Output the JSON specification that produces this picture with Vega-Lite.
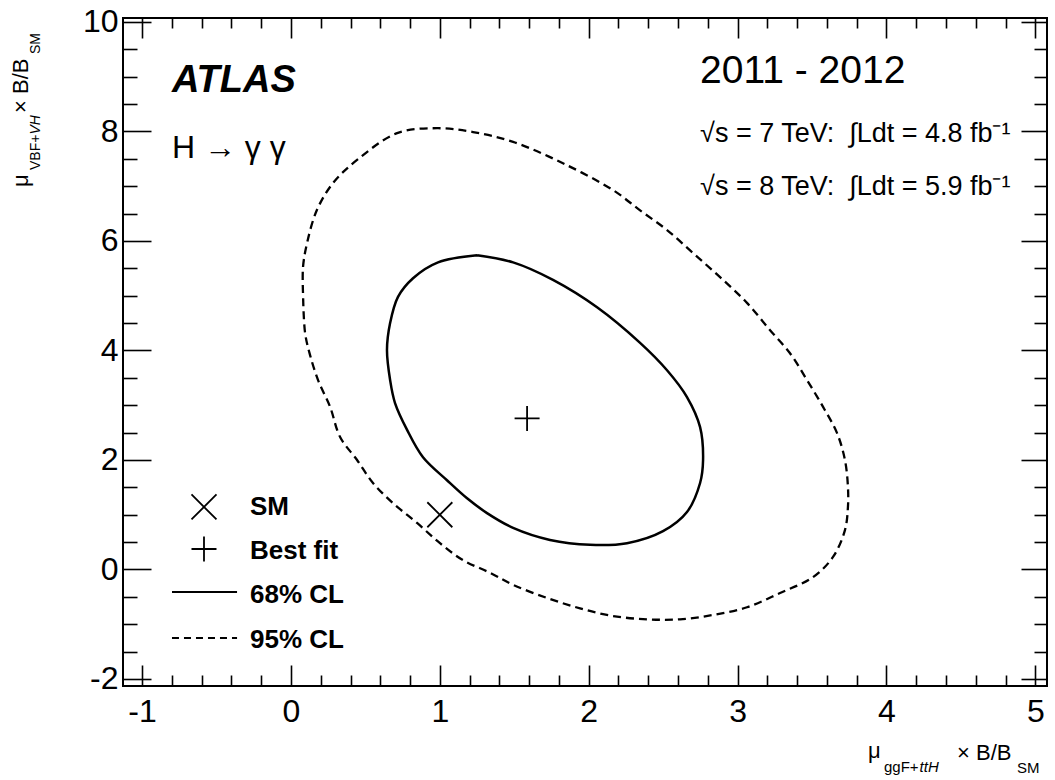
{
  "$schema": "https://vega.github.io/schema/vega-lite/v6.json",
  "width": 924,
  "height": 668,
  "autosize": {"type": "none"},
  "padding": {"left": 123, "top": 18, "right": 8, "bottom": 94},
  "background": "white",
  "config": {
    "view": {"stroke": "black", "strokeWidth": 2},
    "font": "Liberation Sans",
    "axis": {"domain": false, "grid": false, "tickColor": "black", "tickWidth": 1.6, "labelColor": "black", "labelFont": "Liberation Sans", "labelFontSize": 32, "labelFlush": false, "labelOverlap": false}
  },
  "datasets": {
    "c95": [
      {"i": 0, "x": 0.081, "y": 5.05}, {"i": 1, "x": 0.081, "y": 5.52}, {"i": 2, "x": 0.108, "y": 5.96}, {"i": 3, "x": 0.175, "y": 6.57},
      {"i": 4, "x": 0.283, "y": 7.06}, {"i": 5, "x": 0.444, "y": 7.48}, {"i": 6, "x": 0.713, "y": 7.97}, {"i": 7, "x": 0.981, "y": 8.06},
      {"i": 8, "x": 1.223, "y": 7.99}, {"i": 9, "x": 1.492, "y": 7.81}, {"i": 10, "x": 1.827, "y": 7.42}, {"i": 11, "x": 2.163, "y": 6.93},
      {"i": 12, "x": 2.345, "y": 6.56}, {"i": 13, "x": 2.526, "y": 6.2}, {"i": 14, "x": 2.7, "y": 5.78}, {"i": 15, "x": 2.882, "y": 5.34},
      {"i": 16, "x": 3.063, "y": 4.87}, {"i": 17, "x": 3.218, "y": 4.37}, {"i": 18, "x": 3.352, "y": 3.95}, {"i": 19, "x": 3.466, "y": 3.46},
      {"i": 20, "x": 3.574, "y": 2.97}, {"i": 21, "x": 3.668, "y": 2.49}, {"i": 22, "x": 3.721, "y": 2.0}, {"i": 23, "x": 3.741, "y": 1.51},
      {"i": 24, "x": 3.741, "y": 1.14}, {"i": 25, "x": 3.721, "y": 0.72}, {"i": 26, "x": 3.641, "y": 0.23}, {"i": 27, "x": 3.506, "y": -0.14},
      {"i": 28, "x": 3.285, "y": -0.43}, {"i": 29, "x": 3.063, "y": -0.69}, {"i": 30, "x": 2.835, "y": -0.83}, {"i": 31, "x": 2.613, "y": -0.91},
      {"i": 32, "x": 2.392, "y": -0.91}, {"i": 33, "x": 2.163, "y": -0.85}, {"i": 34, "x": 1.942, "y": -0.71}, {"i": 35, "x": 1.72, "y": -0.52},
      {"i": 36, "x": 1.492, "y": -0.28}, {"i": 37, "x": 1.337, "y": -0.06}, {"i": 38, "x": 1.156, "y": 0.17}, {"i": 39, "x": 1.001, "y": 0.48},
      {"i": 40, "x": 0.847, "y": 0.85}, {"i": 41, "x": 0.686, "y": 1.21}, {"i": 42, "x": 0.551, "y": 1.58}, {"i": 43, "x": 0.444, "y": 2.0},
      {"i": 44, "x": 0.33, "y": 2.42}, {"i": 45, "x": 0.263, "y": 2.97}, {"i": 46, "x": 0.182, "y": 3.46}, {"i": 47, "x": 0.128, "y": 3.92},
      {"i": 48, "x": 0.095, "y": 4.32}, {"i": 49, "x": 0.081, "y": 5.05}
    ],
    "c68": [
      {"i": 0, "x": 1.25, "y": 5.74}, {"i": 1, "x": 1.492, "y": 5.61}, {"i": 2, "x": 1.76, "y": 5.29}, {"i": 3, "x": 2.056, "y": 4.79},
      {"i": 4, "x": 2.345, "y": 4.14}, {"i": 5, "x": 2.526, "y": 3.64}, {"i": 6, "x": 2.66, "y": 3.15}, {"i": 7, "x": 2.748, "y": 2.6},
      {"i": 8, "x": 2.768, "y": 2.0}, {"i": 9, "x": 2.748, "y": 1.58}, {"i": 10, "x": 2.66, "y": 1.05}, {"i": 11, "x": 2.499, "y": 0.7},
      {"i": 12, "x": 2.257, "y": 0.48}, {"i": 13, "x": 2.009, "y": 0.45}, {"i": 14, "x": 1.74, "y": 0.54}, {"i": 15, "x": 1.492, "y": 0.76},
      {"i": 16, "x": 1.317, "y": 1.03}, {"i": 17, "x": 1.183, "y": 1.3}, {"i": 18, "x": 1.048, "y": 1.63}, {"i": 19, "x": 0.887, "y": 2.05},
      {"i": 20, "x": 0.78, "y": 2.55}, {"i": 21, "x": 0.699, "y": 3.04}, {"i": 22, "x": 0.666, "y": 3.46}, {"i": 23, "x": 0.645, "y": 4.01},
      {"i": 24, "x": 0.666, "y": 4.5}, {"i": 25, "x": 0.719, "y": 4.98}, {"i": 26, "x": 0.82, "y": 5.32}, {"i": 27, "x": 0.988, "y": 5.61},
      {"i": 28, "x": 1.25, "y": 5.74}
    ],
    "pts": [
      {"name": "SM", "x": 1.0, "y": 1.0},
      {"name": "Best fit", "x": 1.586, "y": 2.76},
      {"name": "SM", "x": -0.584, "y": 1.142},
      {"name": "Best fit", "x": -0.584, "y": 0.374}
    ],
    "leg": [
      {"cl": "68% CL", "x": -0.799, "y": -0.411}, {"cl": "68% CL", "x": -0.362, "y": -0.411},
      {"cl": "95% CL", "x": -0.799, "y": -1.251}, {"cl": "95% CL", "x": -0.362, "y": -1.251}
    ],
    "atlas": [{"t": "ATLAS", "x": -0.799, "y": 8.721}],
    "hgg": [{"t": "H → γ γ", "x": -0.799, "y": 7.516}],
    "years": [{"t": "2011 - 2012", "x": 2.748, "y": 8.886}],
    "lumi": [
      {"t": "√s = 7 TeV: \u00a0∫Ldt = 4.8 fb⁻¹", "x": 2.748, "y": 7.808},
      {"t": "√s = 8 TeV: \u00a0∫Ldt = 5.9 fb⁻¹", "x": 2.748, "y": 6.84}
    ],
    "legtext": [
      {"t": "SM", "x": -0.275, "y": 0.995},
      {"t": "Best fit", "x": -0.275, "y": 0.192},
      {"t": "68% CL", "x": -0.275, "y": -0.612},
      {"t": "95% CL", "x": -0.275, "y": -1.434}
    ],
    "xtmain": [{"t": "μ", "x": 3.876, "y": -3.443}, {"t": "× B/B", "x": 4.474, "y": -3.479}],
    "xtsub": [{"t": "ggF+", "x": 3.983, "y": -3.699}, {"t": "SM", "x": 4.876, "y": -3.717}],
    "xtsubi": [{"t": "ttH", "x": 4.222, "y": -3.699}],
    "ytmain": [{"t": "μ", "x": -1.766, "y": 6.986}, {"t": "× B/B", "x": -1.766, "y": 8.338}],
    "ytsub": [{"t": "VBF+", "x": -1.685, "y": 7.297}, {"t": "SM", "x": -1.685, "y": 9.416}],
    "ytsubi": [{"t": "VH", "x": -1.685, "y": 7.943}]
  },
  "resolve": {"axis": {"x": "independent", "y": "independent"}},
  "layer": [
    {
      "data": {"name": "c95"},
      "mark": {"type": "line", "color": "black", "strokeWidth": 2.3, "strokeDash": [8, 5], "interpolate": "catmull-rom"},
      "encoding": {
        "x": {"field": "x", "type": "quantitative", "scale": {"domain": [-1.128, 5.078], "nice": false, "zero": false},
              "axis": {"orient": "bottom", "values": [-1, 0, 1, 2, 3, 4, 5], "tickSize": -21, "labelPadding": 31, "title": null,
                       "labelExpr": "datum.value < 0 ? '-' + abs(datum.value) : '' + datum.value"}},
        "y": {"field": "y", "type": "quantitative", "scale": {"domain": [-2.128, 10.073], "nice": false, "zero": false},
              "axis": {"orient": "left", "values": [-2, 0, 2, 4, 6, 8, 10], "tickSize": -28, "labelPadding": 33, "title": null,
                       "labelExpr": "datum.value < 0 ? '-' + abs(datum.value) : '' + datum.value"}},
        "order": {"field": "i"}
      }
    },
    {
      "data": {"name": "c68"},
      "mark": {"type": "line", "color": "black", "strokeWidth": 2.5, "interpolate": "catmull-rom"},
      "encoding": {
        "x": {"field": "x", "type": "quantitative", "scale": {"domain": [-1.128, 5.078], "nice": false, "zero": false},
              "axis": {"orient": "bottom", "values": [-0.8, -0.6, -0.4, -0.2, 0.2, 0.4, 0.6, 0.8, 1.2, 1.4, 1.6, 1.8, 2.2, 2.4, 2.6, 2.8, 3.2, 3.4, 3.6, 3.8, 4.2, 4.4, 4.6, 4.8], "tickSize": -11, "labels": false, "title": null}},
        "y": {"field": "y", "type": "quantitative", "scale": {"domain": [-2.128, 10.073], "nice": false, "zero": false},
              "axis": {"orient": "left", "values": [-1.5, -1, -0.5, 0.5, 1, 1.5, 2.5, 3, 3.5, 4.5, 5, 5.5, 6.5, 7, 7.5, 8.5, 9, 9.5], "tickSize": -14, "labels": false, "title": null}},
        "order": {"field": "i"}
      }
    },
    {
      "data": {"name": "pts"},
      "mark": {"type": "point", "filled": false, "color": "black", "strokeWidth": 1.8, "opacity": 1, "size": 625},
      "encoding": {
        "x": {"field": "x", "type": "quantitative", "scale": {"domain": [-1.128, 5.078], "nice": false, "zero": false},
              "axis": {"orient": "top", "values": [-1, 0, 1, 2, 3, 4, 5], "tickSize": -20, "labels": false, "title": null}},
        "y": {"field": "y", "type": "quantitative", "scale": {"domain": [-2.128, 10.073], "nice": false, "zero": false},
              "axis": {"orient": "right", "values": [-2, 0, 2, 4, 6, 8, 10], "tickSize": -26, "labels": false, "title": null}},
        "shape": {"field": "name", "type": "nominal", "scale": {"domain": ["SM", "Best fit"], "range": ["M-1,-1L1,1M-1,1L1,-1", "M-1,0L1,0M0,-1L0,1"]}, "legend": null}
      }
    },
    {
      "data": {"name": "leg"},
      "mark": {"type": "line", "color": "black", "strokeWidth": 2},
      "encoding": {
        "x": {"field": "x", "type": "quantitative", "scale": {"domain": [-1.128, 5.078], "nice": false, "zero": false},
              "axis": {"orient": "top", "values": [-0.8, -0.6, -0.4, -0.2, 0.2, 0.4, 0.6, 0.8, 1.2, 1.4, 1.6, 1.8, 2.2, 2.4, 2.6, 2.8, 3.2, 3.4, 3.6, 3.8, 4.2, 4.4, 4.6, 4.8], "tickSize": -10, "labels": false, "title": null}},
        "y": {"field": "y", "type": "quantitative", "scale": {"domain": [-2.128, 10.073], "nice": false, "zero": false},
              "axis": {"orient": "right", "values": [-1.5, -1, -0.5, 0.5, 1, 1.5, 2.5, 3, 3.5, 4.5, 5, 5.5, 6.5, 7, 7.5, 8.5, 9, 9.5], "tickSize": -13, "labels": false, "title": null}},
        "strokeDash": {"field": "cl", "type": "nominal", "scale": {"domain": ["68% CL", "95% CL"], "range": [[1, 0], [7, 5]]}, "legend": null}
      }
    },
    {
      "data": {"name": "atlas"},
      "mark": {"type": "text", "align": "left", "baseline": "alphabetic", "font": "Liberation Sans", "fontSize": 38, "fontWeight": "bold", "fontStyle": "italic", "color": "black"},
      "encoding": {"x": {"field": "x", "type": "quantitative", "axis": null}, "y": {"field": "y", "type": "quantitative", "axis": null}, "text": {"field": "t"}}
    },
    {
      "data": {"name": "hgg"},
      "mark": {"type": "text", "align": "left", "baseline": "alphabetic", "font": "Liberation Sans", "fontSize": 32, "color": "black"},
      "encoding": {"x": {"field": "x", "type": "quantitative", "axis": null}, "y": {"field": "y", "type": "quantitative", "axis": null}, "text": {"field": "t"}}
    },
    {
      "data": {"name": "years"},
      "mark": {"type": "text", "align": "left", "baseline": "alphabetic", "font": "Liberation Sans", "fontSize": 39, "color": "black"},
      "encoding": {"x": {"field": "x", "type": "quantitative", "axis": null}, "y": {"field": "y", "type": "quantitative", "axis": null}, "text": {"field": "t"}}
    },
    {
      "data": {"name": "lumi"},
      "mark": {"type": "text", "align": "left", "baseline": "alphabetic", "font": "Liberation Sans", "fontSize": 27, "color": "black"},
      "encoding": {"x": {"field": "x", "type": "quantitative", "axis": null}, "y": {"field": "y", "type": "quantitative", "axis": null}, "text": {"field": "t"}}
    },
    {
      "data": {"name": "legtext"},
      "mark": {"type": "text", "align": "left", "baseline": "alphabetic", "font": "Liberation Sans", "fontSize": 26, "fontWeight": "bold", "color": "black"},
      "encoding": {"x": {"field": "x", "type": "quantitative", "axis": null}, "y": {"field": "y", "type": "quantitative", "axis": null}, "text": {"field": "t"}}
    },
    {
      "data": {"name": "xtmain"},
      "mark": {"type": "text", "align": "left", "baseline": "alphabetic", "font": "Liberation Sans", "fontSize": 22, "color": "black"},
      "encoding": {"x": {"field": "x", "type": "quantitative", "axis": null}, "y": {"field": "y", "type": "quantitative", "axis": null}, "text": {"field": "t"}}
    },
    {
      "data": {"name": "xtsub"},
      "mark": {"type": "text", "align": "left", "baseline": "alphabetic", "font": "Liberation Sans", "fontSize": 15, "color": "black"},
      "encoding": {"x": {"field": "x", "type": "quantitative", "axis": null}, "y": {"field": "y", "type": "quantitative", "axis": null}, "text": {"field": "t"}}
    },
    {
      "data": {"name": "xtsubi"},
      "mark": {"type": "text", "align": "left", "baseline": "alphabetic", "font": "Liberation Sans", "fontSize": 15, "fontStyle": "italic", "color": "black"},
      "encoding": {"x": {"field": "x", "type": "quantitative", "axis": null}, "y": {"field": "y", "type": "quantitative", "axis": null}, "text": {"field": "t"}}
    },
    {
      "data": {"name": "ytmain"},
      "mark": {"type": "text", "align": "left", "baseline": "alphabetic", "angle": 270, "font": "Liberation Sans", "fontSize": 22, "color": "black"},
      "encoding": {"x": {"field": "x", "type": "quantitative", "axis": null}, "y": {"field": "y", "type": "quantitative", "axis": null}, "text": {"field": "t"}}
    },
    {
      "data": {"name": "ytsub"},
      "mark": {"type": "text", "align": "left", "baseline": "alphabetic", "angle": 270, "font": "Liberation Sans", "fontSize": 14, "color": "black"},
      "encoding": {"x": {"field": "x", "type": "quantitative", "axis": null}, "y": {"field": "y", "type": "quantitative", "axis": null}, "text": {"field": "t"}}
    },
    {
      "data": {"name": "ytsubi"},
      "mark": {"type": "text", "align": "left", "baseline": "alphabetic", "angle": 270, "font": "Liberation Sans", "fontSize": 14, "fontStyle": "italic", "color": "black"},
      "encoding": {"x": {"field": "x", "type": "quantitative", "axis": null}, "y": {"field": "y", "type": "quantitative", "axis": null}, "text": {"field": "t"}}
    }
  ]
}
